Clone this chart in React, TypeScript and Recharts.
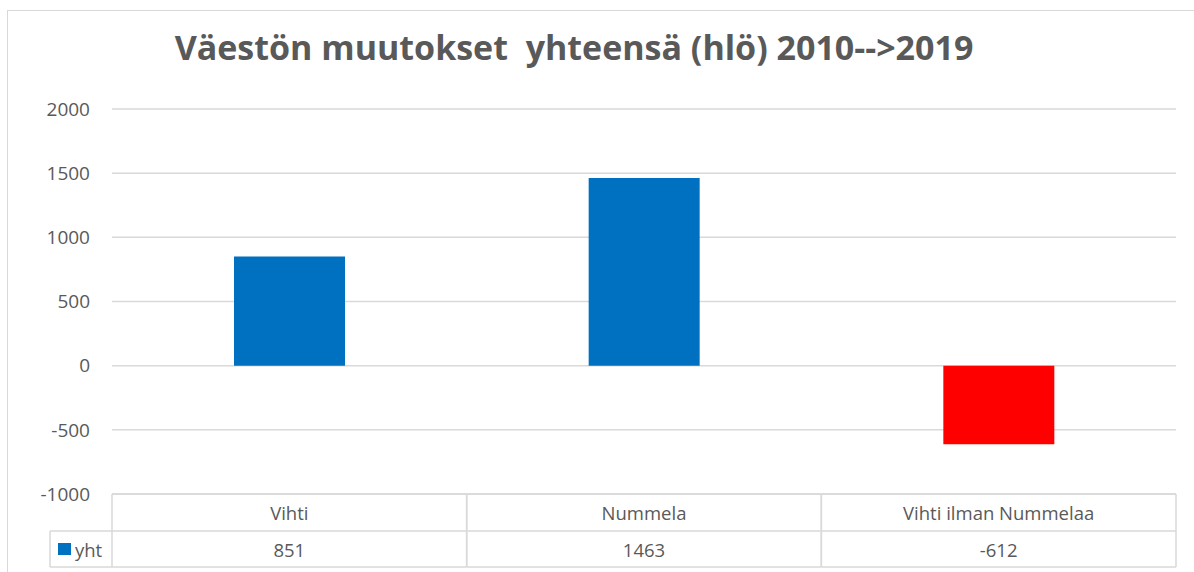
import React from 'react';
import { BarChart, Bar, XAxis, YAxis, CartesianGrid, Cell } from 'recharts';

const categories = ['Vihti', 'Nummela', 'Vihti ilman Nummelaa'];
const yhtValues = [851, 1463, -612];
const yTicks = [-1000, -500, 0, 500, 1000, 1500, 2000];
const seriesName = 'yht';
const titleText = 'Väestön muutokset  yhteensä (hlö) 2010-->2019';

const data = categories.map((c, i) => ({ name: c, yht: yhtValues[i] }));

const FONT = '"Open Sans", "Noto Sans", sans-serif';
const TEXT = '#595959';
const GRID = '#D9D9D9';
const BLUE = '#0070C0';
const RED = '#FF0000';

const W = 1194;
const H = 572;
const M = { top: 109, right: 18, left: 52, bottom: 0 };
const YW = 60;
const XH = 78;
const PLOT_W = W - M.left - M.right - YW;
const ROW1 = 37;
const ROW2 = 36;
const LEG_X = 50;

function TableTick(props: any) {
  const { x, y, payload } = props;
  const half = payload && payload.offset ? payload.offset : PLOT_W / categories.length / 2;
  const idx = payload && payload.index != null ? payload.index : props.index;
  const x0 = x - half;
  const x1 = x + half;
  const yA = y;
  const yB = y + ROW1;
  const yC = yB + ROW2;
  const val = yhtValues[idx];
  const ls = { stroke: GRID, strokeWidth: 1.5 };
  return (
    <g>
      <line x1={x0} y1={yA} x2={x1} y2={yA} {...ls} />
      <line x1={x0} y1={yB} x2={x1} y2={yB} {...ls} />
      <line x1={x0} y1={yC} x2={x1} y2={yC} {...ls} />
      <line x1={x0} y1={yA} x2={x0} y2={yC} {...ls} />
      <line x1={x1} y1={yA} x2={x1} y2={yC} {...ls} />
      <text x={x} y={yA + ROW1 / 2} textAnchor="middle" dominantBaseline="central" fill={TEXT} fontSize={18.5} fontFamily={FONT}>
        {payload.value}
      </text>
      <text x={x} y={yB + ROW2 / 2} textAnchor="middle" dominantBaseline="central" fill={TEXT} fontSize={18.5} fontFamily={FONT}>
        {val}
      </text>
      {idx === 0 && (
        <g>
          <line x1={LEG_X} y1={yB} x2={x0} y2={yB} {...ls} />
          <line x1={LEG_X} y1={yC} x2={x0} y2={yC} {...ls} />
          <line x1={LEG_X} y1={yB} x2={LEG_X} y2={yC} {...ls} />
          <rect x={LEG_X + 8} y={yB + 12} width={13} height={12} fill={BLUE} />
          <text x={LEG_X + 25} y={yB + ROW2 / 2} dominantBaseline="central" fill={TEXT} fontSize={18.5} fontFamily={FONT}>
            {seriesName}
          </text>
        </g>
      )}
    </g>
  );
}

export default function App() {
  return (
    <div style={{ position: 'absolute', left: 0, top: 0, width: W, height: H, overflow: 'hidden', background: '#fff' }}>
      <div style={{ position: 'absolute', left: 7, top: 10, width: 1300, height: 700, border: '1px solid #D9D9D9' }} />
      <svg style={{ position: 'absolute', left: 0, top: 0 }} width={W} height={100}>
        <text x={574} y={60} textAnchor="middle" fill={TEXT} fontSize={34} fontWeight="bold" fontFamily={FONT} style={{ whiteSpace: 'pre' }}>
          {titleText}
        </text>
      </svg>
      <div style={{ position: 'absolute', left: 0, top: 0 }}>
        <BarChart width={W} height={H} data={data} margin={M}>
          <CartesianGrid vertical={false} stroke={GRID} strokeWidth={1.5} />
          <XAxis dataKey="name" height={XH} axisLine={false} tickLine={false} tickSize={0} tickMargin={0} interval={0} tick={<TableTick />} />
          <YAxis
            width={YW}
            domain={[-1000, 2000]}
            ticks={yTicks}
            axisLine={false}
            tickLine={false}
            tickSize={0}
            tickMargin={22}
            interval={0}
            tick={{ fill: TEXT, fontSize: 19, fontFamily: FONT }}
          />
          <Bar dataKey="yht" barSize={111} isAnimationActive={false}>
            {data.map((d, i) => (
              <Cell key={i} fill={d.yht < 0 ? RED : BLUE} />
            ))}
          </Bar>
        </BarChart>
      </div>
    </div>
  );
}
